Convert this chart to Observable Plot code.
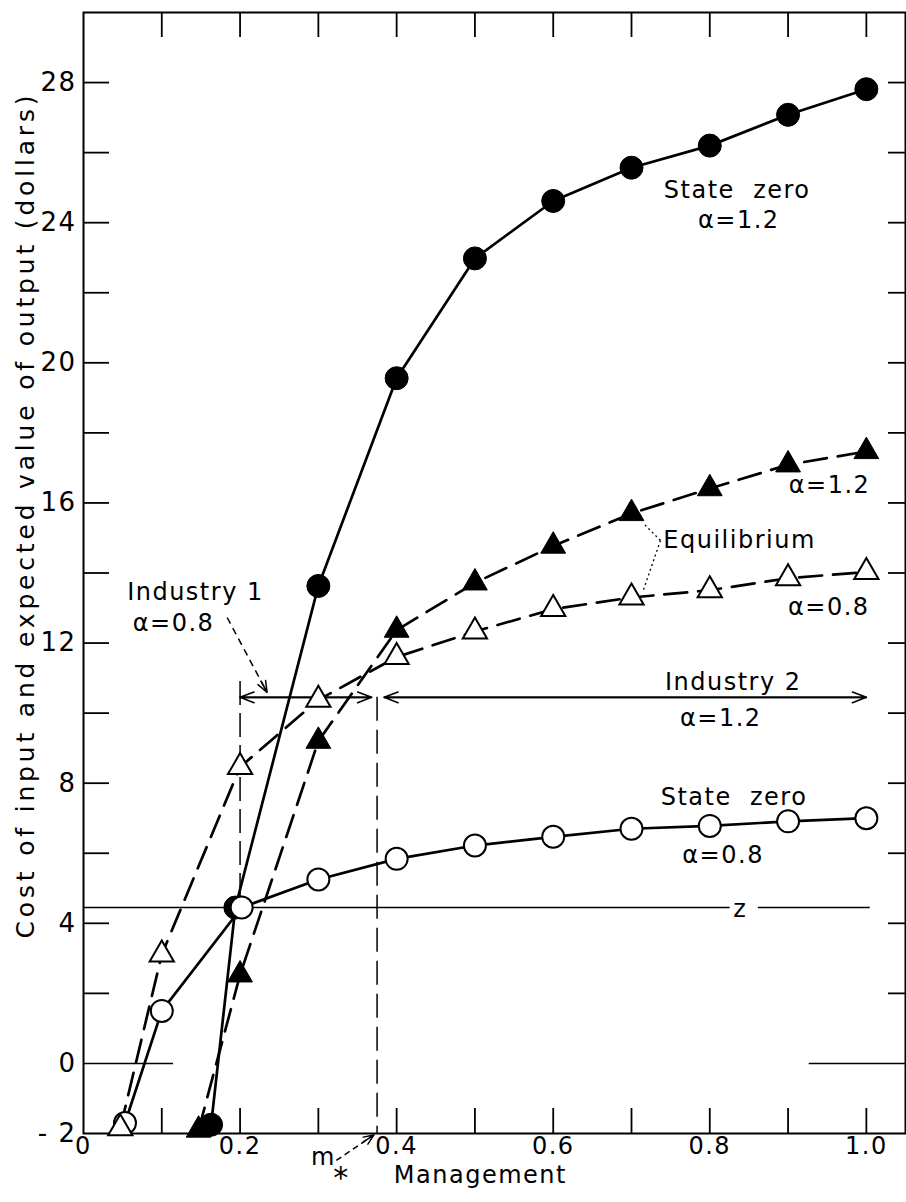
<!DOCTYPE html>
<html>
<head>
<meta charset="utf-8">
<script src="https://cdn.jsdelivr.net/npm/d3@7"></script>
<script src="https://cdn.jsdelivr.net/npm/@observablehq/plot@0.6"></script>
<style>
  html, body { margin: 0; padding: 0; background: #fff; }
</style>
</head>
<body>
<div id="chart"></div>
<script>
// ---- data ----
const stateZero12X = [0.163, 0.194, 0.3, 0.4, 0.5, 0.6, 0.7, 0.8, 0.9, 1.0];
const stateZero12Y = [-1.75, 4.45, 13.63, 19.56, 22.98, 24.62, 25.57, 26.2, 27.08, 27.81];

const stateZero08X = [0.053, 0.1, 0.202, 0.3, 0.4, 0.5, 0.6, 0.7, 0.8, 0.9, 1.0];
const stateZero08Y = [-1.7, 1.5, 4.45, 5.25, 5.84, 6.22, 6.47, 6.7, 6.78, 6.91, 7.0];

const equil12X = [0.147, 0.2, 0.3, 0.4, 0.5, 0.6, 0.7, 0.8, 0.9, 1.0];
const equil12Y = [-1.9, 2.53, 9.2, 12.37, 13.72, 14.77, 15.7, 16.41, 17.09, 17.47];

const equil08X = [0.047, 0.1, 0.2, 0.3, 0.4, 0.5, 0.6, 0.7, 0.8, 0.9, 1.0];
const equil08Y = [-1.85, 3.11, 8.46, 10.38, 11.6, 12.33, 12.97, 13.3, 13.51, 13.85, 14.03];

const zLevel = 4.45;
const zSegments = [[0, 0.826], [0.862, 1.005]];
const zeroSegments = [[0, 0.115], [0.927, 1.05]];
const mStar = 0.375;

const industry1Span = [0.2, 0.368];
const industry2Span = [0.384, 1.0];
const industryArrowY = 10.45;
const industry1BarTop = 10.9;

const industry1Pointer = [{x1: 0.1835, y1: 12.73, x2: 0.2345, y2: 10.59}];
const mStarPointer = [{x1: 0.323, y1: -2.77, x2: 0.371, y2: -2.04}];
const equilPointers = [
  {x1: 0.737, y1: 14.93, x2: 0.715, y2: 15.42},
  {x1: 0.737, y1: 14.93, x2: 0.715, y2: 13.5}
];

const curveLabels = ["State  zero", "α=1.2", "Equilibrium", "α=1.2", "α=0.8", "Industry 2", "α=1.2", "State  zero", "α=0.8", "z", "Industry 1", "α=0.8"];
const curveLabelX = [0.835, 0.837, 0.838, 0.953, 0.952, 0.830, 0.814, 0.831, 0.817, 0.839, 0.143, 0.115];
const curveLabelY = [24.92, 24.07, 14.93, 16.5, 13.02, 10.88, 9.85, 7.59, 5.94, 4.4, 13.45, 12.56];

const xMinorTicks = [0.1, 0.2, 0.3, 0.4, 0.5, 0.6, 0.7, 0.8, 0.9, 1.0];
const xTickLabels = [0, 0.2, 0.4, 0.6, 0.8, 1.0];
const yMinorTicks = [2, 4, 6, 8, 10, 12, 14, 16, 18, 20, 22, 24, 26, 28];
const yTickLabels = [-2, 0, 4, 8, 12, 16, 20, 24, 28];

const xAxisLabel = "Management";
const yAxisLabel = "Cost of input and expected value of output (dollars)";
const yAxisLabelAt = 15.6;
const mStarLabelAt = [0.3065, 0.3295];

// ---- layout ----
const W = 906, H = 1202;
const mL = 83, mR = 1, mT = 12, mB = 69;
const fw = W - mL - mR, fh = H - mT - mB;

const fmtX = d => d === 0 ? "0" : d.toFixed(1);
const fmtY = d => d < 0 ? "- " + (-d) : String(d);

const chart = Plot.plot({
  width: W, height: H,
  marginLeft: mL, marginRight: mR, marginTop: mT, marginBottom: mB,
  x: {domain: [0, 1.05], axis: null},
  y: {domain: [-2, 30], axis: null},
  style: {fontFamily: "DejaVu Sans", background: "white", color: "black", letterSpacing: "1.5px", overflow: "visible"},
  marks: [
    // inward ticks on all four sides
    Plot.tickX(xMinorTicks, {x: d => d, insetTop: fh - 25, strokeWidth: 1.8}),
    Plot.tickX(xMinorTicks, {x: d => d, insetBottom: fh - 25, strokeWidth: 1.8}),
    Plot.tickY(yMinorTicks, {y: d => d, insetRight: fw - 26, strokeWidth: 1.8}),
    Plot.tickY(yMinorTicks, {y: d => d, insetLeft: fw - 17, strokeWidth: 1.8}),
    Plot.frame({stroke: "black", strokeWidth: 2}),

    // zero line stubs and z line
    Plot.ruleY(zeroSegments, {y: () => 0, x1: d => d[0], x2: d => d[1], strokeWidth: 1.6}),
    Plot.ruleY(zSegments, {y: () => zLevel, x1: d => d[0], x2: d => d[1], strokeWidth: 1.5}),

    // vertical guides
    Plot.ruleX([industry1Span[0]], {x: d => d, y1: industry1BarTop, y2: zLevel, strokeWidth: 1.5, strokeDasharray: "24,8"}),
    Plot.ruleX([mStar], {x: d => d, y1: industryArrowY, y2: -2, strokeWidth: 1.5, strokeDasharray: "24,9"}),

    // industry double arrows
    Plot.arrow([industry1Span, industry2Span, [industry1Span[1], industry1Span[0]], [industry2Span[1], industry2Span[0]]], {
      x1: d => d[0], x2: d => d[1], y1: () => industryArrowY, y2: () => industryArrowY,
      headLength: 14, headAngle: 42, strokeWidth: 1.6
    }),

    // pointers
    Plot.link(industry1Pointer, {x1: "x1", y1: "y1", x2: "x2", y2: "y2", strokeWidth: 1.5, strokeDasharray: "7,5"}),
    Plot.arrow(industry1Pointer, {x1: "x1", y1: "y1", x2: "x2", y2: "y2", strokeWidth: 1.5, headLength: 12, headAngle: 42, insetStart: 72}),
    Plot.link(mStarPointer, {x1: "x1", y1: "y1", x2: "x2", y2: "y2", strokeWidth: 1.5, strokeDasharray: "6,4"}),
    Plot.arrow(mStarPointer, {x1: "x1", y1: "y1", x2: "x2", y2: "y2", strokeWidth: 1.5, headLength: 11, headAngle: 45, insetStart: 32}),
    Plot.link(equilPointers, {x1: "x1", y1: "y1", x2: "x2", y2: "y2", strokeWidth: 1.3, strokeDasharray: "2,3"}),

    // curves
    Plot.line(stateZero12Y, {x: stateZero12X, y: stateZero12Y, stroke: "black", strokeWidth: 2.7}),
    Plot.line(stateZero08Y, {x: stateZero08X, y: stateZero08Y, stroke: "black", strokeWidth: 2.7}),
    Plot.line(equil12Y, {x: equil12X, y: equil12Y, stroke: "black", strokeWidth: 2.7, strokeDasharray: "23,11"}),
    Plot.line(equil08Y, {x: equil08X, y: equil08Y, stroke: "black", strokeWidth: 2.7, strokeDasharray: "23,11"}),

    // markers
    Plot.dot(stateZero12Y, {x: stateZero12X, y: stateZero12Y, r: 11.5, fill: "black", stroke: "black", strokeWidth: 1}),
    Plot.dot(stateZero08Y, {x: stateZero08X, y: stateZero08Y, r: 11, fill: "white", stroke: "black", strokeWidth: 2}),
    Plot.dot(equil12Y, {x: equil12X, y: equil12Y, symbol: "triangle", r: 9.2, fill: "black", stroke: "black", strokeWidth: 1}),
    Plot.dot(equil08Y, {x: equil08X, y: equil08Y, symbol: "triangle", r: 9, fill: "white", stroke: "black", strokeWidth: 2}),

    // annotations
    Plot.text(curveLabels, {x: curveLabelX, y: curveLabelY, text: d => d, fontSize: 24}),

    // tick labels
    Plot.text(xTickLabels, {x: d => d, text: fmtX, frameAnchor: "bottom", dy: 20, fontSize: 24}),
    Plot.text(yTickLabels, {y: d => d, text: fmtY, frameAnchor: "left", textAnchor: "end", dx: -7, fontSize: 26}),

    // axis labels
    Plot.text([xAxisLabel], {x: () => 0.507, text: d => d, frameAnchor: "bottom", dy: 49.5, fontSize: 24}),
    Plot.text(["m"], {x: () => mStarLabelAt[0], text: d => d, frameAnchor: "bottom", dy: 31, fontSize: 24}),
    Plot.text(["*"], {x: () => mStarLabelAt[1], text: d => d, frameAnchor: "bottom", dy: 54, fontSize: 30}),
    Plot.text([yAxisLabel], {y: () => yAxisLabelAt, text: d => d, frameAnchor: "left", textAnchor: "middle", rotate: -90, dx: -58, fontSize: 25})
  ]
});

d3.select(chart).selectAll("text")
  .filter(function() { return this.textContent === yAxisLabel; })
  .attr("letter-spacing", "0px")
  .attr("textLength", 843)
  .attr("lengthAdjust", "spacing");

document.getElementById("chart").appendChild(chart);
</script>
</body>
</html>
